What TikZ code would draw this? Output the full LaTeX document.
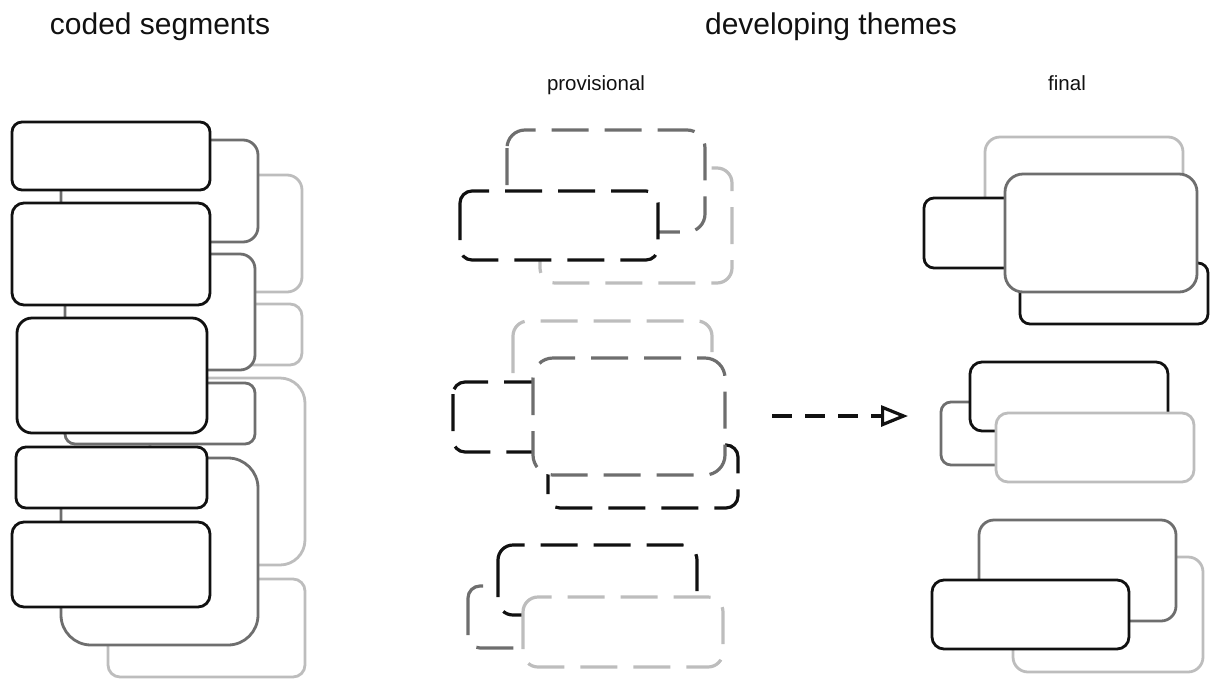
\documentclass[tikz,border=0pt]{standalone}
\usepackage{fontspec}
\setmainfont{Liberation Sans}
\usetikzlibrary{arrows.meta}
\definecolor{inkdark}{HTML}{111111}
\definecolor{inkmid}{HTML}{6E6E6E}
\definecolor{inklight}{HTML}{BDBDBD}
\tikzset{
  seg/.style={line width=2.8pt, fill=white},
  segK/.style={seg, draw=inkdark},
  segD/.style={seg, draw=inkmid},
  segL/.style={seg, draw=inklight},
  dsh/.style={line width=3.2pt, dash pattern=on 37pt off 16pt},
  title/.style={anchor=base, font=\fontsize{30}{36}\selectfont, text=inkdark},
  subtitle/.style={anchor=base, font=\fontsize{20.5}{24}\selectfont, text=inkdark},
  flow/.style={line width=3.2pt, draw=inkdark, dash pattern=on 20pt off 13pt,
    -{Triangle[open, length=27pt, width=21pt, fill=white]}}
}
\begin{document}
\begin{tikzpicture}[x=1pt, y=-1pt]
\useasboundingbox (0,0) rectangle (1210,681);

% headings
\node[title] (hcoded) at (160,34) {coded segments};
\node[title] (hthemes) at (831,34) {developing themes};
\node[subtitle] (hprov) at (596,90) {provisional};
\node[subtitle] (hfinal) at (1067,90) {final};

% ---- coded segments: three layers, back to front ----
\draw[segL, rounded corners=15pt] (100,175) rectangle (302,292);
\draw[segL, rounded corners=12pt] (100,304) rectangle (302,365);
\draw[segL, rounded corners=25pt] (150,378) rectangle (305,565);
\draw[segL, rounded corners=12pt] (108,579) rectangle (305,677);

\draw[segD, rounded corners=15pt] (61,140) rectangle (258,242);
\draw[segD, rounded corners=15pt] (65,254) rectangle (255,370);
\draw[segD, rounded corners=10pt] (65,383) rectangle (255,444);
\draw[segD, rounded corners=30pt] (61,458) rectangle (258,645);

\draw[segK, rounded corners=10pt] (12,122) rectangle (210,190);
\draw[segK, rounded corners=12pt] (12,203) rectangle (210,305);
\draw[segK, rounded corners=15pt] (17,318) rectangle (207,433);
\draw[segK, rounded corners=10pt] (16,447) rectangle (207,508);
\draw[segK, rounded corners=12pt] (12,522) rectangle (210,607);

% ---- provisional themes (dashed) ----
% first group
\draw[segL, dsh, rounded corners=15pt] (540,168) rectangle (732,283);
\draw[segD, dsh, rounded corners=18pt] (507,130) rectangle (705,232);
\draw[segK, dsh, rounded corners=12pt] (460,191) rectangle (658,260);
% second group
\draw[segL, dsh, rounded corners=15pt] (513,321) rectangle (712,410);
\draw[segK, dsh, rounded corners=12pt] (453,382) rectangle (600,452);
\draw[segK, dsh, rounded corners=12pt] (548,445) rectangle (738,508);
\draw[segD, dsh, rounded corners=20pt] (533,358) rectangle (725,475);
% third group
\draw[segD, dsh, rounded corners=12pt] (468,586) rectangle (560,648);
\draw[segK, dsh, rounded corners=15pt] (498,545) rectangle (697,615);
\draw[segL, dsh, rounded corners=15pt] (523,597) rectangle (723,667);

% ---- final themes ----
% first group
\draw[segL, rounded corners=15pt] (985,137) rectangle (1183,250);
\draw[segK, rounded corners=10pt] (924,198) rectangle (1050,268);
\draw[segK, rounded corners=10pt] (1020,263) rectangle (1208,324);
\draw[segD, rounded corners=18pt] (1005,174) rectangle (1197,292);
% second group
\draw[segD, rounded corners=10pt] (941,402) rectangle (1010,465);
\draw[segK, rounded corners=12pt] (970,362) rectangle (1168,431);
\draw[segL, rounded corners=12pt] (996,413) rectangle (1194,482);
% third group
\draw[segL, rounded corners=15pt] (1013,557) rectangle (1203,672);
\draw[segD, rounded corners=15pt] (979,520) rectangle (1176,621);
\draw[segK, rounded corners=12pt] (932,580) rectangle (1129,649);

% refinement arrow
\coordinate (flowstart) at (772,416);
\coordinate (flowend) at (908,416);
\draw[flow] (flowstart) -- (flowend);
\end{tikzpicture}
\end{document}
